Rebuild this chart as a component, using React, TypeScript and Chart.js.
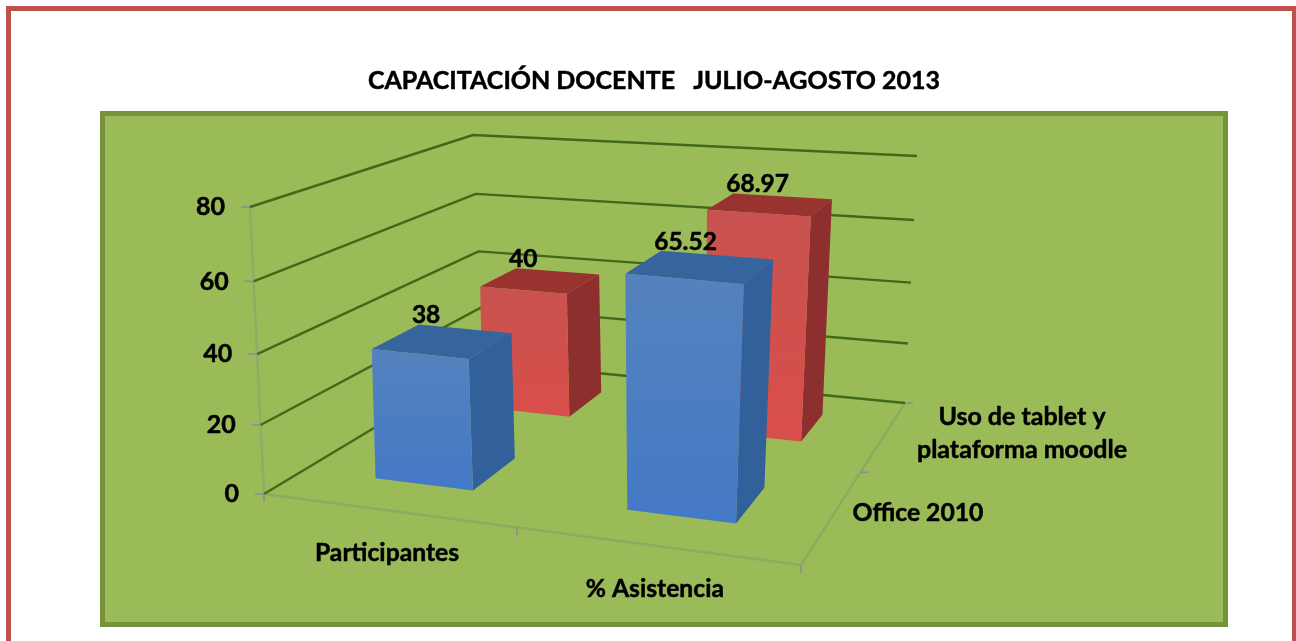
import React, { useEffect, useRef } from "react";
import { Chart, registerables } from "chart.js";

Chart.register(...registerables);

const chartTitle = "CAPACITACIÓN DOCENTE   JULIO-AGOSTO 2013";
const categories = ["Participantes", "% Asistencia"];
const officeLabel = "Office 2010";
const tabletLabel = ["Uso de tablet y", "plataforma moodle"];
const officeValues = [38, 65.52];
const tabletValues = [40, 68.97];
const axisMax = 80;
const axisStep = 20;

const FONT = "Lato";
type P = [number, number];

// Corners of the 3D box on the page (layout only)
const FLOOR: P[] = [[264, 494], [801, 565], [905, 403], [484, 362]];
const ROOF: P[] = [[250, 207], [812, 256], [917, 156], [473, 135]];
const BAR_ROOF: P[] = [[258, 207], [824, 256], [925, 156], [481, 135]];
const DEPTH_CENTERS = [0.25, 0.75];

function homography(q: P[]) {
  const [[x0, y0], [x1, y1], [x2, y2], [x3, y3]] = q;
  const dx1 = x1 - x2, dx2 = x3 - x2, sx = x0 - x1 + x2 - x3;
  const dy1 = y1 - y2, dy2 = y3 - y2, sy = y0 - y1 + y2 - y3;
  const den = dx1 * dy2 - dx2 * dy1;
  const g = (sx * dy2 - dx2 * sy) / den;
  const h = (dx1 * sy - sx * dy1) / den;
  const a = x1 - x0 + g * x1, b = x3 - x0 + h * x3;
  const d = y1 - y0 + g * y1, e = y3 - y0 + h * y3;
  return (u: number, v: number): P => {
    const w = g * u + h * v + 1;
    return [(a * u + b * v + x0) / w, (d * u + e * v + y0) / w];
  };
}
const floorAt = homography(FLOOR);
const roofAt = homography(ROOF);
const barRoofAt = homography(BAR_ROOF);
function lift(u: number, d: number, t: number, roof: (u: number, v: number) => P): P {
  const f = floorAt(u, d);
  const r = roof(u, d);
  const k = t - 0.05 * t * (1 - t); // perspective foreshortening of the height
  return [f[0] + (r[0] - f[0]) * k, f[1] + (r[1] - f[1]) * k];
}
const project = (u: number, d: number, t: number) => lift(u, d, t, roofAt);
const projectBar = (u: number, d: number, t: number) => lift(u, d, t, barRoofAt);

function poly(ctx: CanvasRenderingContext2D, pts: P[], fill: string | CanvasGradient) {
  ctx.beginPath();
  pts.forEach((p, i) => (i ? ctx.lineTo(p[0], p[1]) : ctx.moveTo(p[0], p[1])));
  ctx.closePath();
  ctx.fillStyle = fill;
  ctx.fill();
}
function seg(ctx: CanvasRenderingContext2D, a: P, b: P, color: string, w: number) {
  ctx.beginPath();
  ctx.moveTo(a[0], a[1]);
  ctx.lineTo(b[0], b[1]);
  ctx.strokeStyle = color;
  ctx.lineWidth = w;
  ctx.stroke();
}
function text(ctx: CanvasRenderingContext2D, s: string, x: number, y: number, size: number, align: CanvasTextAlign) {
  ctx.font = `bold ${size}px ${FONT}`;
  ctx.fillStyle = "#000000";
  ctx.strokeStyle = "#000000";
  ctx.lineWidth = 0.5;
  ctx.lineJoin = "round";
  ctx.textAlign = align;
  ctx.textBaseline = "middle";
  ctx.fillText(s, x, y);
  ctx.strokeText(s, x, y);
}

const PALETTES = [
  { frontTop: "#5482bd", frontBottom: "#4479c6", side: "#31609a", top: "#36659e" },
  { frontTop: "#c8524f", frontBottom: "#d94e4a", side: "#8e2f2f", top: "#98332f" },
];

const scene3d = {
  id: "scene3d",
  beforeDatasetsDraw(chart: any) {
    const { ctx, scales, chartArea } = chart;
    const yS = scales.y;
    const xS = scales.x;
    const W = chart.width;
    ctx.save();

    // page frame and plot panel
    ctx.fillStyle = "#ffffff";
    ctx.fillRect(0, 0, W, chart.height);
    ctx.strokeStyle = "#c0504d";
    ctx.lineWidth = 5;
    ctx.strokeRect(8.5, 8.5, 1286, 680);
    ctx.fillStyle = "#9bbb59";
    ctx.fillRect(102.5, 113.5, 1123, 511);
    ctx.strokeStyle = "#76923c";
    ctx.strokeRect(102.5, 113.5, 1123, 511);

    text(ctx, chartTitle, 654, 81, 25, "center");

    // floor edges
    const edge = "#8cab5e";
    seg(ctx, project(0, 0, 0), project(1, 0, 0), edge, 2.5);
    seg(ctx, project(1, 0, 0), project(1, 1, 0), edge, 2.5);
    seg(ctx, project(0, 0, 0), project(0, 0, 1), "#90ac66", 2.5);

    // walls: one grid line per tick of the value axis
    const tickColor = "#8d8aa0";
    yS.ticks.forEach((tk: any) => {
      const t = (chartArea.bottom - yS.getPixelForValue(tk.value)) / (chartArea.bottom - chartArea.top);
      const a = project(0, 0, t), b = project(0, 1, t), c = project(1, 1, t);
      ctx.beginPath();
      ctx.moveTo(a[0], a[1]);
      ctx.lineTo(b[0], b[1]);
      ctx.lineTo(c[0], c[1]);
      ctx.strokeStyle = "#40691a";
      ctx.lineWidth = 2.4;
      ctx.stroke();
      seg(ctx, [a[0] - 9, a[1]], a, tickColor, 1.5);
      text(ctx, String(tk.value), a[0] - 25, a[1], 25, "right");
    });

    // tick marks on the floor
    [0, 0.5, 1].forEach((u) => {
      const p = project(u, 0, 0);
      seg(ctx, p, [p[0], p[1] + 8], tickColor, 1.5);
    });
    [0.5, 1].forEach((d) => {
      const p = project(1, d, 0);
      seg(ctx, p, [p[0] + 8, p[1]], tickColor, 1.5);
    });

    // category and depth labels
    xS.ticks.forEach((tk: any) => {
      const px = xS.getPixelForTick(tk.value);
      const u = (px - chartArea.left) / (chartArea.right - chartArea.left);
      const p = project(u, 0, 0);
      text(ctx, categories[tk.value], p[0], p[1] + 43, 24.7, "center");
    });
    text(ctx, officeLabel, 918, 513, 24.7, "center");
    tabletLabel.forEach((line, i) => text(ctx, line, 1022, 417 + i * 33, 25, "center"));

    // bars, back series first, each through the chart's own scales
    const metas = [chart.getDatasetMeta(1), chart.getDatasetMeta(0)];
    const labelsToDraw: { s: string; x: number; y: number }[] = [];
    metas.forEach((meta: any) => {
      const di = meta.index;
      const pal = PALETTES[di];
      const dc = DEPTH_CENTERS[di];
      meta.data.forEach((bar: any, i: number) => {
        const span = chartArea.right - chartArea.left;
        const h = chartArea.bottom - chartArea.top;
        const u0 = (bar.x - bar.width / 2 - chartArea.left) / span;
        const u1 = (bar.x + bar.width / 2 - chartArea.left) / span;
        const half = (u1 - u0) / 2;
        const d0 = dc - half, d1 = dc + half;
        const t = (chartArea.bottom - bar.y) / h;
        const ftl = projectBar(u0, d0, t), ftr = projectBar(u1, d0, t);
        const fbl = projectBar(u0, d0, 0), fbr = projectBar(u1, d0, 0);
        const btl = projectBar(u0, d1, t), btr = projectBar(u1, d1, t), bbr = projectBar(u1, d1, 0);
        const grad = ctx.createLinearGradient(0, ftl[1], 0, fbr[1]);
        grad.addColorStop(0, pal.frontTop);
        grad.addColorStop(1, pal.frontBottom);
        poly(ctx, [ftr, btr, bbr, fbr], pal.side);
        poly(ctx, [ftl, btl, btr, ftr], pal.top);
        poly(ctx, [ftl, ftr, fbr, fbl], grad);
        const val = chart.data.datasets[di].data[i];
        labelsToDraw.push({ s: String(val), x: btl[0] - 7, y: btl[1] - 9 });
      });
    });
    labelsToDraw.forEach((l) => text(ctx, l.s, l.x, l.y, 24.5, "left"));
    ctx.restore();
  },
};

export default function App() {
  const ref = useRef<HTMLCanvasElement | null>(null);
  useEffect(() => {
    const chart = new Chart(ref.current as HTMLCanvasElement, {
      type: "bar",
      data: {
        labels: categories,
        datasets: [
          { label: officeLabel, data: officeValues, backgroundColor: "rgba(0,0,0,0)", grouped: false, barPercentage: 0.4, categoryPercentage: 1 } as any,
          { label: tabletLabel.join(" "), data: tabletValues, backgroundColor: "rgba(0,0,0,0)", grouped: false, barPercentage: 0.4, categoryPercentage: 1 } as any,
        ],
      },
      options: {
        responsive: false,
        animation: false,
        layout: { padding: { left: 264, right: 1296 - 801, top: 207, bottom: 641 - 494 } },
        plugins: { legend: { display: false }, title: { display: false }, tooltip: { enabled: false } },
        scales: {
          x: { display: false, offset: true },
          y: { display: false, min: 0, max: axisMax, ticks: { stepSize: axisStep } },
        },
      },
      plugins: [scene3d],
    });
    return () => chart.destroy();
  }, []);
  return <canvas ref={ref} width={1296} height={641} style={{ position: "absolute", left: 0, top: 0, display: "block" }} />;
}
